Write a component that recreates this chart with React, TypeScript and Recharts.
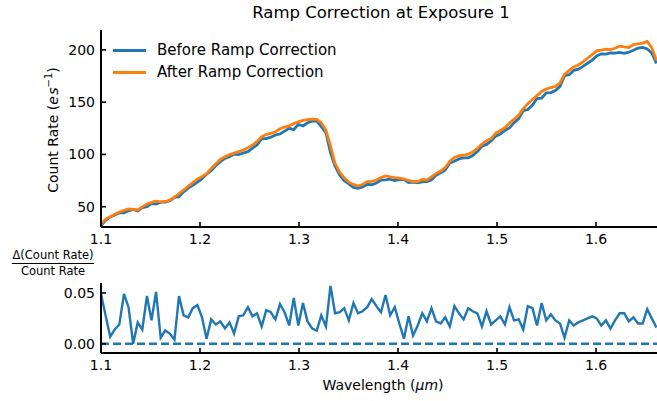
import React from "react";
import { LineChart, Line, XAxis, YAxis, ReferenceLine } from "recharts";

// wavelength grid (µm), one point per detector column
const wavelength = [
  1.1000, 1.1046, 1.1093, 1.1139, 1.1185, 1.1232, 1.1278, 1.1325, 1.1371, 1.1417,
  1.1464, 1.1510, 1.1556, 1.1603, 1.1649, 1.1695, 1.1742, 1.1788, 1.1834, 1.1881,
  1.1927, 1.1974, 1.2020, 1.2066, 1.2113, 1.2159, 1.2205, 1.2252, 1.2298, 1.2344,
  1.2391, 1.2437, 1.2484, 1.2530, 1.2576, 1.2623, 1.2669, 1.2715, 1.2762, 1.2808,
  1.2854, 1.2901, 1.2947, 1.2993, 1.3040, 1.3086, 1.3133, 1.3179, 1.3225, 1.3272,
  1.3318, 1.3364, 1.3411, 1.3457, 1.3503, 1.3550, 1.3596, 1.3642, 1.3689, 1.3735,
  1.3782, 1.3828, 1.3874, 1.3921, 1.3967, 1.4013, 1.4060, 1.4106, 1.4152, 1.4199,
  1.4245, 1.4292, 1.4338, 1.4384, 1.4431, 1.4477, 1.4523, 1.4570, 1.4616, 1.4662,
  1.4709, 1.4755, 1.4802, 1.4848, 1.4894, 1.4941, 1.4987, 1.5033, 1.5080, 1.5126,
  1.5172, 1.5219, 1.5265, 1.5311, 1.5358, 1.5404, 1.5451, 1.5497, 1.5543, 1.5590,
  1.5636, 1.5682, 1.5729, 1.5775, 1.5821, 1.5868, 1.5914, 1.5961, 1.6007, 1.6053,
  1.6100, 1.6146, 1.6192, 1.6239, 1.6285, 1.6331, 1.6378, 1.6424, 1.6471, 1.6517,
  1.6563, 1.6610,
];

const beforeRamp = [
  31.9, 36.9, 40.2, 42.2, 44.1, 44.2, 46.1, 47.5, 45.9, 49.1,
  50.0, 53.0, 52.5, 54.3, 54.3, 55.7, 59.0, 59.6, 64.2, 67.8,
  70.4, 73.5, 76.8, 81.1, 84.4, 89.1, 93.1, 96.3, 97.7, 100.3,
  99.8, 101.4, 102.7, 106.1, 109.1, 115.0, 115.1, 116.5, 118.6, 119.6,
  122.3, 125.0, 123.7, 128.8, 127.2, 130.3, 131.8, 131.8, 126.6, 120.9,
  101.8, 88.8, 80.4, 74.8, 71.8, 68.4, 67.7, 68.9, 71.3, 71.0,
  72.7, 75.4, 75.7, 76.4, 75.1, 75.8, 76.2, 73.1, 73.5, 72.8,
  73.7, 73.9, 75.8, 80.0, 82.5, 85.2, 91.9, 93.4, 95.8, 96.8,
  96.8, 99.0, 102.7, 107.9, 109.6, 113.0, 117.5, 119.6, 123.1, 125.3,
  130.4, 134.2, 141.8, 142.9, 147.3, 153.5, 153.8, 158.8, 159.2, 161.2,
  165.1, 175.4, 176.3, 180.4, 181.6, 184.2, 187.2, 190.2, 194.1, 196.2,
  196.0, 197.2, 196.9, 197.5, 196.7, 197.8, 199.7, 201.7, 202.3, 200.9,
  197.0, 187.0,
];

const afterRamp = [
  33.5, 38.0, 40.5, 42.8, 45.0, 46.5, 47.8, 47.5, 46.9, 49.8,
  52.5, 54.2, 55.3, 54.6, 55.0, 56.3, 59.2, 62.5, 66.0, 69.6,
  73.0, 76.4, 78.8, 81.5, 86.5, 90.8, 95.2, 97.8, 99.8, 101.3,
  102.6, 104.3, 106.5, 109.0, 112.5, 117.0, 119.0, 120.2, 121.5, 124.5,
  126.2, 127.3, 129.5, 131.2, 132.5, 133.2, 133.8, 133.5, 130.3, 123.0,
  108.0, 91.5, 83.0, 77.5, 73.5, 71.3, 69.8, 71.2, 74.0, 74.3,
  75.5, 77.8, 79.5, 78.6, 77.9, 77.3, 76.6, 75.1, 74.1, 74.1,
  76.0, 75.6, 78.6, 81.8, 84.2, 87.5, 93.5, 97.0, 98.8, 99.2,
  100.3, 102.3, 105.9, 109.8, 113.2, 115.2, 120.3, 122.9, 125.5, 130.0,
  133.5, 137.5, 143.8, 148.4, 152.6, 156.3, 160.2, 162.5, 164.0, 165.0,
  168.5, 176.5, 180.5, 183.7, 185.5, 188.5, 192.0, 195.5, 199.1, 199.8,
  200.6, 200.2, 201.5, 203.6, 202.8, 202.3, 205.0, 205.8, 206.4, 208.0,
  202.0, 190.0,
];

const residual = [
  0.049, 0.028, 0.007, 0.014, 0.019, 0.049, 0.036, 0.000, 0.021, 0.014,
  0.047, 0.023, 0.051, 0.006, 0.013, 0.010, 0.004, 0.047, 0.028, 0.026,
  0.035, 0.038, 0.026, 0.005, 0.024, 0.019, 0.022, 0.015, 0.021, 0.010,
  0.027, 0.028, 0.036, 0.027, 0.030, 0.017, 0.033, 0.031, 0.024, 0.039,
  0.031, 0.018, 0.045, 0.018, 0.040, 0.022, 0.015, 0.013, 0.028, 0.017,
  0.057, 0.030, 0.031, 0.035, 0.023, 0.040, 0.030, 0.032, 0.036, 0.044,
  0.037, 0.031, 0.048, 0.028, 0.036, 0.020, 0.005, 0.027, 0.008, 0.018,
  0.030, 0.022, 0.035, 0.022, 0.020, 0.026, 0.017, 0.037, 0.030, 0.024,
  0.035, 0.032, 0.030, 0.017, 0.032, 0.019, 0.023, 0.027, 0.019, 0.036,
  0.023, 0.024, 0.014, 0.037, 0.035, 0.018, 0.040, 0.023, 0.029, 0.023,
  0.020, 0.006, 0.023, 0.018, 0.021, 0.023, 0.025, 0.027, 0.025, 0.018,
  0.023, 0.015, 0.023, 0.030, 0.030, 0.022, 0.026, 0.020, 0.020, 0.034,
  0.025, 0.016,
];

const xTicks = [1.1, 1.2, 1.3, 1.4, 1.5, 1.6];
const countTicks = [50, 100, 150, 200];
const residTicks = [0, 0.05];

const rows = wavelength.map((w, i) => ({
  w,
  before: beforeRamp[i],
  after: afterRamp[i],
  resid: residual[i],
}));

const BLUE = "#1f77b4";
const ORANGE = "#ff7f0e";
const FONT = "DejaVu Sans, sans-serif";
const xDomain: [number, number] = [1.1, 1.6626];
const tickStyle = { fontSize: 14, fill: "#000", fontFamily: FONT };
const spine = { stroke: "#000", strokeWidth: 2 };
const tickLn = { stroke: "#000", strokeWidth: 1.6 };

export default function App() {
  const common = {
    type: "number" as const,
    dataKey: "w",
    domain: xDomain,
    allowDataOverflow: true,
  };
  return (
    <div
      style={{
        position: "fixed",
        left: 0,
        top: 0,
        width: 657,
        height: 401,
        overflow: "hidden",
        background: "#fff",
        fontFamily: FONT,
        color: "#000",
      }}
    >
      <div style={{ position: "absolute", left: 0, top: 3, width: 762, textAlign: "center", fontSize: 16.5 }}>
        Ramp Correction at Exposure 1
      </div>

      <div style={{ position: "absolute", left: 0, top: 0 }}>
        <LineChart width={660} height={260} data={rows} margin={{ top: 30, right: 2, left: 0, bottom: 0 }}>
          <XAxis {...common} xAxisId="top" orientation="top" height={0} tick={false} tickLine={false} axisLine={spine} />
          <XAxis
            {...common}
            ticks={xTicks}
            interval={0}
            tickFormatter={(v: number) => v.toFixed(1)}
            height={33}
            tickSize={-5}
            tickMargin={12}
            tick={tickStyle}
            axisLine={spine}
            tickLine={tickLn}
          />
          <YAxis
            domain={[30.6, 219]}
            allowDataOverflow
            ticks={countTicks}
            interval={0}
            width={101}
            tickSize={-5}
            tickMargin={11}
            tick={tickStyle}
            axisLine={spine}
            tickLine={tickLn}
          />
          <Line dataKey="before" stroke={BLUE} strokeWidth={2.8} dot={false} isAnimationActive={false} />
          <Line dataKey="after" stroke={ORANGE} strokeWidth={2.8} dot={false} isAnimationActive={false} />
        </LineChart>
      </div>

      {/* legend */}
      <div style={{ position: "absolute", left: 113, top: 39, fontSize: 15, lineHeight: "22px" }}>
        {[
          { label: "Before Ramp Correction", color: BLUE },
          { label: "After Ramp Correction", color: ORANGE },
        ].map((it) => (
          <div key={it.label} style={{ display: "flex", alignItems: "center", height: 22 }}>
            <span style={{ display: "inline-block", width: 33, height: 3, background: it.color, marginRight: 11 }} />
            <span>{it.label}</span>
          </div>
        ))}
      </div>

      <div
        style={{
          position: "absolute",
          left: 52,
          top: 130,
          transform: "translate(-50%, -50%) rotate(-90deg)",
          whiteSpace: "nowrap",
          fontSize: 14,
        }}
      >
        Count Rate (<i>e</i>&#8202;<i>s</i>
        <sup style={{ fontSize: 10 }}>−1</sup>)
      </div>

      <div style={{ position: "absolute", left: 0, top: 260 }}>
        <LineChart width={660} height={141} data={rows} margin={{ top: 23, right: 2, left: 0, bottom: 0 }}>
          <XAxis {...common} xAxisId="top" orientation="top" height={0} tick={false} tickLine={false} axisLine={spine} />
          <XAxis
            {...common}
            ticks={xTicks}
            interval={0}
            tickFormatter={(v: number) => v.toFixed(1)}
            height={48}
            tickSize={-5}
            tickMargin={12}
            tick={tickStyle}
            axisLine={spine}
            tickLine={tickLn}
          />
          <YAxis
            domain={[-0.0091, 0.0598]}
            allowDataOverflow
            ticks={residTicks}
            interval={0}
            tickFormatter={(v: number) => v.toFixed(2)}
            width={101}
            tickSize={-5}
            tickMargin={11}
            tick={tickStyle}
            axisLine={spine}
            tickLine={tickLn}
          />
          <ReferenceLine y={0} stroke={BLUE} strokeWidth={2.5} strokeDasharray="8 4" />
          <Line dataKey="resid" stroke={BLUE} strokeWidth={2.4} dot={false} isAnimationActive={false} />
        </LineChart>
      </div>

      {/* fraction-style y label of the residual panel */}
      <div style={{ position: "absolute", left: 12, top: 248, width: 82, textAlign: "center", fontSize: 11.5 }}>
        <div style={{ lineHeight: "14px", borderBottom: "1.5px solid #000", paddingBottom: 1 }}>Δ(Count Rate)</div>
        <div style={{ lineHeight: "14px" }}>Count Rate</div>
      </div>

      <div style={{ position: "absolute", left: 383, top: 377, transform: "translateX(-50%)", whiteSpace: "nowrap", fontSize: 14 }}>
        Wavelength (<i>μm</i>)
      </div>
    </div>
  );
}
